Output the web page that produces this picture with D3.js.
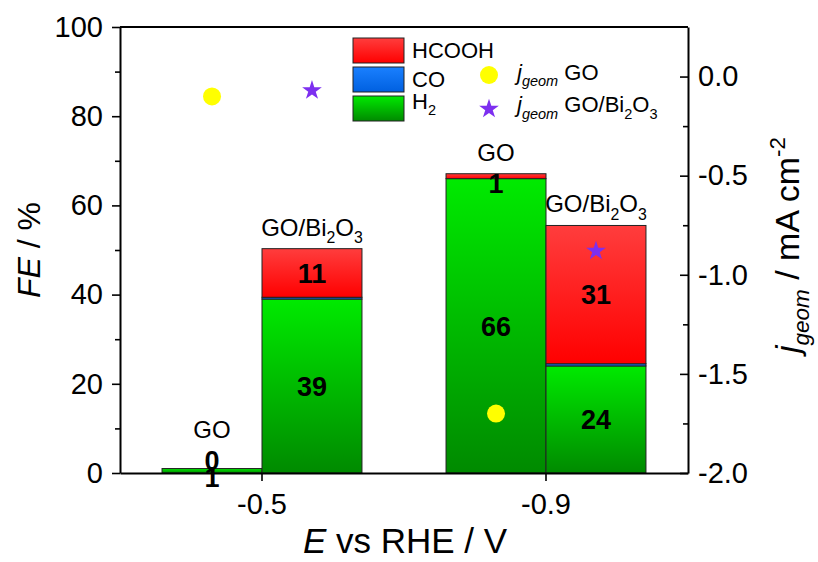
<!DOCTYPE html>
<html>
<head>
<meta charset="utf-8">
<script src="https://cdn.jsdelivr.net/npm/d3@7"></script>
<style>
  body { margin: 0; background: #fff; }
  text { font-family: "Liberation Sans", Arial, sans-serif; fill: #000; }
</style>
</head>
<body>
<svg width="818" height="562"></svg>
<script>
// bars, in order: GO @-0.5, GO/Bi2O3 @-0.5, GO @-0.9, GO/Bi2O3 @-0.9
var potentials = ["-0.5", "-0.9"];
var catalysts = ["GO", "GO/Bi2O3"];
var barPotential = ["-0.5", "-0.5", "-0.9", "-0.9"];
var barCatalyst = ["GO", "GO/Bi2O3", "GO", "GO/Bi2O3"];
var feH2 = [1, 39, 66, 24];
var feCO = [0, 0.4, 0, 0.5];
var feHCOOH = [0, 10.9, 1.1, 31];
var labelH2 = ["1", "39", "66", "24"];
var labelHCOOH = ["0", "11", "1", "31"];
// current density (right axis)
var jGeomGO = [-0.10, -1.70];
var jGeomGOBi = [-0.07, -0.88];
var feTicks = [0, 20, 40, 60, 80, 100];
var jTicks = [0, -0.5, -1.0, -1.5, -2.0];

var svg = d3.select("svg");
var L = 120, R = 688, T = 27, B = 473;

var x = d3.scaleBand().domain(potentials).range([L, R]);
var half = x.step() * 0.352;
var xSub = d3.scaleBand().domain(catalysts).range([-half, half]);
var yFE = d3.scaleLinear().domain([0, 100]).range([B, T]);
var yJ = d3.scaleLinear().domain([-2, 0.25]).range([B, T]);

// gradients
var defs = svg.append("defs");
function grad(id, top, bottom) {
  var g = defs.append("linearGradient").attr("id", id)
    .attr("x1", 0).attr("y1", 0).attr("x2", 0).attr("y2", 1);
  g.append("stop").attr("offset", "0%").attr("stop-color", top);
  g.append("stop").attr("offset", "100%").attr("stop-color", bottom);
}
grad("gH2", "#00ea00", "#008a00");
grad("gCO", "#1a80ff", "#0060e0");
grad("gHCOOH", "#ff3d3d", "#ff0000");
var fills = {H2: "url(#gH2)", CO: "url(#gCO)", HCOOH: "url(#gHCOOH)"};

// helper for sub/superscripts
function rich(sel, parts, size) {
  var shift = 0;
  parts.forEach(function(p) {
    var t = sel.append("tspan").text(p.t);
    var target = p.sub ? size * 0.3 : (p.sup ? -size * 0.42 : 0);
    t.attr("dy", target - shift);
    shift = target;
    if (p.sub || p.sup) t.style("font-size", (size * 0.66) + "px");
    if (p.it) t.style("font-style", "italic");
  });
}

var rows = feH2.map(function(d, i) {
  return {pot: barPotential[i], cat: barCatalyst[i], H2: feH2[i], CO: feCO[i], HCOOH: feHCOOH[i], i: i};
});
var series = d3.stack().keys(["H2", "CO", "HCOOH"])(rows);

function barX(r) { return x(r.pot) + x.bandwidth() / 2 + xSub(r.cat); }

var bars = svg.append("g");
series.forEach(function(s) {
  bars.selectAll(null).data(s).enter().append("rect")
    .attr("x", function(d) { return barX(d.data); })
    .attr("width", xSub.bandwidth())
    .attr("y", function(d) { return yFE(d[1]); })
    .attr("height", function(d) { return Math.max(0, yFE(d[0]) - yFE(d[1])); })
    .attr("fill", fills[s.key])
    .attr("stroke", "#222")
    .attr("stroke-width", 1);
});

// value labels
var lab = svg.append("g").style("font-family", "Lato, 'Open Sans', sans-serif")
  .style("font-weight", "700").style("font-size", "27px").attr("text-anchor", "middle");
rows.forEach(function(r, i) {
  var cx = barX(r) + xSub.bandwidth() / 2;
  var h2Top = yFE(r.H2), h2Mid = (B + h2Top) / 2;
  var h2Small = B - h2Top < 12;
  var topY = yFE(r.H2 + r.CO + r.HCOOH);
  var hcTop = topY, hcBot = yFE(r.H2 + r.CO);
  var hcSmall = hcBot - hcTop < 12;
  var yH2 = h2Small ? h2Mid + 7 : h2Mid;
  var yHC = hcSmall ? (h2Small ? hcTop - 8 : (hcTop + hcBot) / 2 + 7) : (hcTop + hcBot) / 2;
  lab.append("text").attr("x", cx).attr("y", yH2).attr("dy", "0.36em").text(labelH2[i]);
  lab.append("text").attr("x", cx).attr("y", yHC).attr("dy", "0.36em").text(labelHCOOH[i]);

  // catalyst name above bar
  var nameY = topY - 13 - (B - topY < 12 ? 18 : 0);
  var t = svg.append("text").attr("x", cx).attr("y", nameY)
    .attr("text-anchor", "middle").style("font-size", "24px");
  if (r.cat === "GO") rich(t, [{t: "GO"}], 24);
  else rich(t, [{t: "GO/Bi"}, {t: "2", sub: true}, {t: "O"}, {t: "3", sub: true}], 24);
});

// scatter points
var sym = d3.symbol().type(d3.symbolStar).size(120);
potentials.forEach(function(p, k) {
  var cGO = x(p) + x.bandwidth() / 2 + xSub("GO") + xSub.bandwidth() / 2;
  var cBi = x(p) + x.bandwidth() / 2 + xSub("GO/Bi2O3") + xSub.bandwidth() / 2;
  svg.append("circle").attr("cx", cGO).attr("cy", yJ(jGeomGO[k])).attr("r", 9).attr("fill", "#ffff00");
  svg.append("path").attr("d", sym).attr("transform", "translate(" + cBi + "," + yJ(jGeomGOBi[k]) + ")")
    .attr("fill", "#7d2ff0");
});

// axes
var ax = svg.append("g");
var left = ax.append("g").attr("transform", "translate(" + L + ",0)")
  .call(d3.axisLeft(yFE).tickValues(feTicks).tickSize(8).tickSizeOuter(0).tickPadding(9));
ax.append("g").attr("transform", "translate(" + L + ",0)")
  .call(d3.axisLeft(yFE).tickValues([10, 30, 50, 70, 90]).tickSize(5).tickFormat(""))
  .select(".domain").remove();
var right = ax.append("g").attr("transform", "translate(" + R + ",0)")
  .call(d3.axisRight(yJ).tickValues(jTicks).tickSize(-8).tickSizeOuter(0).tickPadding(10)
    .tickFormat(d3.format(".1f")));
ax.append("g").attr("transform", "translate(" + R + ",0)")
  .call(d3.axisRight(yJ).tickValues([-0.25, -0.75, -1.25, -1.75]).tickSize(-5).tickFormat(""))
  .select(".domain").remove();
var bottom = ax.append("g").attr("transform", "translate(0," + B + ")")
  .call(d3.axisBottom(x).tickSize(8).tickSizeOuter(0).tickPadding(12));
ax.append("line").attr("x1", L).attr("x2", R).attr("y1", T).attr("y2", T);
ax.selectAll("line, path.domain").attr("stroke", "#000").attr("stroke-width", 2);
ax.selectAll(".tick line").attr("stroke-width", 1.6);
ax.selectAll(".tick text").style("font-family", "'Liberation Sans', Arial, sans-serif")
  .style("font-size", "29px").attr("fill", "#000");
right.selectAll(".tick text").text(function(d) { return d3.format(".1f")(d).replace("−", "-"); });
bottom.selectAll(".tick text").text(function(d) { return d; });

// axis titles
var ty = svg.append("text").attr("transform", "translate(40," + ((T + B) / 2) + ") rotate(-90)")
  .attr("text-anchor", "middle").style("font-size", "32px");
rich(ty, [{t: "FE", it: true}, {t: " / %"}], 32);
var tx = svg.append("text").attr("x", 405).attr("y", 553)
  .attr("text-anchor", "middle").style("font-size", "35px");
rich(tx, [{t: "E", it: true}, {t: " vs RHE / V"}], 35);
var tr = svg.append("text").attr("transform", "translate(799," + 245 + ") rotate(-90)")
  .attr("text-anchor", "middle").style("font-size", "34px");
rich(tr, [{t: "j", it: true}, {t: "geom", it: true, sub: true}, {t: " / mA cm"}, {t: "-2", sup: true}], 34);

// legend
var legKeys = ["HCOOH", "CO", "H2"];
var leg = svg.append("g").attr("transform", "translate(353,38)");
legKeys.forEach(function(k, i) {
  leg.append("rect").attr("x", 0).attr("y", i * 29).attr("width", 51).attr("height", 25)
    .attr("fill", fills[k]).attr("stroke", "#222").attr("stroke-width", 1);
  var t = leg.append("text").attr("x", 59).attr("y", i * 29 + 12.5).attr("dy", "0.36em")
    .style("font-size", "22px");
  if (k === "H2") rich(t, [{t: "H"}, {t: "2", sub: true}], 22);
  else t.text(k);
});
leg.append("circle").attr("cx", 136).attr("cy", 29 + 8).attr("r", 9).attr("fill", "#ffff00");
leg.append("path").attr("d", sym).attr("transform", "translate(136," + (58 + 13) + ")").attr("fill", "#7d2ff0");
var l1 = leg.append("text").attr("x", 164).attr("y", 29 + 12.5).attr("dy", "0.2em").style("font-size", "22px");
rich(l1, [{t: "j", it: true}, {t: "geom", it: true, sub: true}, {t: " GO"}], 22);
var l2 = leg.append("text").attr("x", 164).attr("y", 58 + 16).attr("dy", "0.2em").style("font-size", "22px");
rich(l2, [{t: "j", it: true}, {t: "geom", it: true, sub: true}, {t: " GO/Bi"}, {t: "2", sub: true}, {t: "O"}, {t: "3", sub: true}], 22);
</script>
</body>
</html>
